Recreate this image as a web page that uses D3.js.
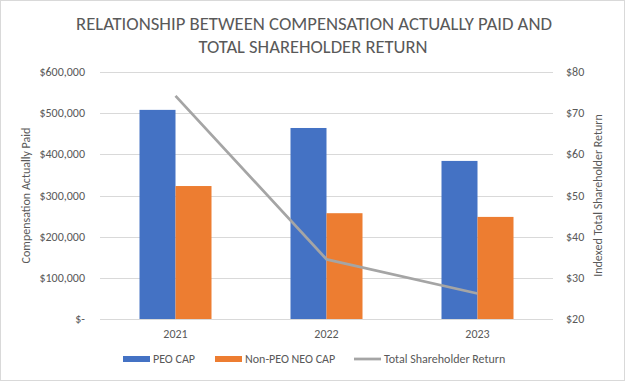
<!DOCTYPE html>
<html>
<head>
<meta charset="utf-8">
<script src="https://cdn.jsdelivr.net/npm/d3@7"></script>
<style>
  body { margin: 0; background: #fff; }
  svg { display: block; font-family: Calibri, Carlito, Lato, "Open Sans", sans-serif; }
</style>
</head>
<body>
<svg id="chart" width="625" height="381"></svg>
<script>
var years = ["2021", "2022", "2023"];
var peoCap = [508000, 464000, 384000];
var nonPeoCap = [323000, 257000, 248000];
var tsr = [74.2, 34.5, 26.2];
var leftTicks = [0, 100000, 200000, 300000, 400000, 500000, 600000];
var rightTicks = [20, 30, 40, 50, 60, 70, 80];
var seriesNames = ["PEO CAP", "Non-PEO NEO CAP", "Total Shareholder Return"];
var colors = ["#4472c4", "#ed7d31", "#a5a5a5"];

var svg = d3.select('#chart');
var W = 625, H = 381;
var m = {left: 100, right: 72, top: 72, bottom: 62};
var pw = W - m.left - m.right, ph = H - m.top - m.bottom;
var txt = "#595959";

svg.append("rect").attr("x", 0.5).attr("y", 0.5).attr("width", W - 1).attr("height", H - 1)
	.attr("fill", "#fff").attr("stroke", "#d9d9d9");

var x = d3.scaleBand().domain(years).range([m.left, m.left + pw]);
var xs = d3.scaleBand().domain([0, 1]).range([0, 72]);
var y = d3.scaleLinear().domain([0, 600000]).range([m.top + ph, m.top]);
var y2 = d3.scaleLinear().domain([20, 80]).range([m.top + ph, m.top]);

// gridlines
svg.append("g").selectAll("line").data(leftTicks).join("line")
	.attr("x1", m.left).attr("x2", m.left + pw)
	.attr("y1", function(d) { return Math.round(y(d)) + 0.5; })
	.attr("y2", function(d) { return Math.round(y(d)) + 0.5; })
	.attr("stroke", "#d9d9d9").attr("stroke-width", 1);

// left axis labels
var fmt = function(d) { return d === 0 ? "$-" : "$" + d3.format(",")(d); };
svg.append("g").selectAll("text").data(leftTicks).join("text")
	.attr("x", 85).attr("y", function(d) { return y(d) + 4; })
	.attr("text-anchor", "end").attr("font-size", 12).attr("fill", txt)
	.text(fmt);

// right axis labels
svg.append("g").selectAll("text").data(rightTicks).join("text")
	.attr("x", 566).attr("y", function(d) { return y2(d) + 4; })
	.attr("font-size", 12).attr("fill", txt)
	.text(function(d) { return "$" + d; });

// bars
var groups = svg.append("g").selectAll("g").data(years).join("g")
	.attr("transform", function(d) { return "translate(" + (x(d) + x.bandwidth() / 2 - 36) + ",0)"; });
groups.append("rect")
	.attr("x", xs(0)).attr("width", xs.bandwidth())
	.attr("y", function(d, i) { return y(peoCap[i]); })
	.attr("height", function(d, i) { return y(0) - y(peoCap[i]); })
	.attr("fill", colors[0]);
groups.append("rect")
	.attr("x", xs(1)).attr("width", xs.bandwidth())
	.attr("y", function(d, i) { return y(nonPeoCap[i]); })
	.attr("height", function(d, i) { return y(0) - y(nonPeoCap[i]); })
	.attr("fill", colors[1]);

// TSR line
var line = d3.line()
	.x(function(d, i) { return x(years[i]) + x.bandwidth() / 2; })
	.y(function(d) { return y2(d); });
svg.append("path").datum(tsr).attr("d", line)
	.attr("fill", "none").attr("stroke", colors[2]).attr("stroke-width", 2.75)
	.attr("stroke-linejoin", "round");

// x labels
svg.append("g").selectAll("text").data(years).join("text")
	.attr("x", function(d) { return x(d) + x.bandwidth() / 2; }).attr("y", 338)
	.attr("text-anchor", "middle").attr("font-size", 12).attr("fill", txt)
	.text(function(d) { return d; });

// axis titles
svg.append("text").attr("transform", "translate(30," + (m.top + ph / 2) + ") rotate(-90)")
	.attr("text-anchor", "middle").attr("font-size", 12).attr("fill", txt)
	.text("Compensation Actually Paid");
svg.append("text").attr("transform", "translate(602," + (m.top + ph / 2) + ") rotate(-90)")
	.attr("text-anchor", "middle").attr("font-size", 12).attr("fill", txt)
	.text("Indexed Total Shareholder Return");

// title (condensed to mimic Calibri)
var title = svg.append("g").attr("fill", txt).attr("font-size", 19).attr("text-anchor", "middle");
title.append("text").attr("x", 314).attr("y", 30)
	.attr("textLength", 476).attr("lengthAdjust", "spacingAndGlyphs")
	.text("RELATIONSHIP BETWEEN COMPENSATION ACTUALLY PAID AND");
title.append("text").attr("x", 313).attr("y", 53)
	.attr("textLength", 229).attr("lengthAdjust", "spacingAndGlyphs")
	.text("TOTAL SHAREHOLDER RETURN");

// legend
var legX = [123, 215, 354];
var leg = svg.append("g").selectAll("g").data(seriesNames).join("g")
	.attr("transform", function(d, i) { return "translate(" + legX[i] + ",359)"; });
leg.each(function(d, i) {
	var g = d3.select(this);
	if (i < 2) {
		g.append("rect").attr("x", 0).attr("y", -3).attr("width", 27).attr("height", 6).attr("fill", colors[i]);
	} else {
		g.append("line").attr("x1", 0).attr("x2", 27).attr("y1", 0).attr("y2", 0)
			.attr("stroke", colors[i]).attr("stroke-width", 2.75);
	}
	g.append("text").attr("x", 30).attr("y", 4).attr("font-size", 12).attr("fill", txt).text(d);
});
</script>
</body>
</html>
